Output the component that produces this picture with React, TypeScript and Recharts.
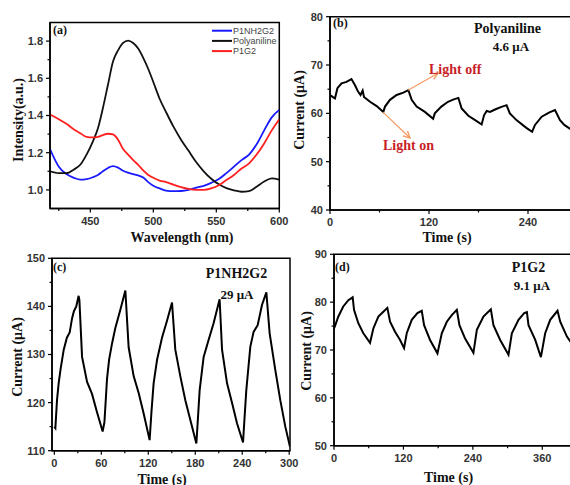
import React from "react";
import { LineChart, Line, XAxis, YAxis, ReferenceArea, ReferenceLine } from "recharts";

// (a) spectra
const wavelength = [418, 425, 431, 437, 442, 447, 452, 456, 460, 464, 468, 472, 476, 480, 484, 488, 492, 496, 500, 505, 510, 516, 522, 528, 534, 540, 546, 552, 558, 564, 570, 576, 582, 588, 594, 600];
const p1nh2g2 = [1.22, 1.125, 1.085, 1.065, 1.055, 1.058, 1.068, 1.08, 1.1, 1.118, 1.128, 1.12, 1.103, 1.093, 1.085, 1.078, 1.066, 1.042, 1.022, 1.008, 0.996, 0.993, 0.994, 1.0, 1.012, 1.022, 1.038, 1.058, 1.09, 1.125, 1.16, 1.19, 1.245, 1.32, 1.39, 1.43];
const polyaniline = [1.1, 1.09, 1.09, 1.11, 1.135, 1.19, 1.26, 1.33, 1.44, 1.565, 1.69, 1.75, 1.79, 1.803, 1.79, 1.76, 1.71, 1.65, 1.58, 1.49, 1.42, 1.34, 1.27, 1.21, 1.15, 1.1, 1.06, 1.03, 1.01, 0.998, 0.99, 0.993, 1.017, 1.045, 1.062, 1.055];
const p1g2 = [1.405, 1.38, 1.355, 1.325, 1.305, 1.285, 1.282, 1.285, 1.295, 1.302, 1.298, 1.27, 1.22, 1.19, 1.16, 1.135, 1.105, 1.08, 1.065, 1.05, 1.042, 1.028, 1.015, 1.005, 1.0, 1.0, 1.008, 1.025, 1.053, 1.08, 1.115, 1.143, 1.19, 1.25, 1.32, 1.38];

const spectra = [
  { key: "p1nh2g2", name: "P1NH2G2", color: "#1a1aff" },
  { key: "polyaniline", name: "Polyaniline", color: "#111111" },
  { key: "p1g2", name: "P1G2", color: "#ff1f1f" },
];

// (b) polyaniline photocurrent
const bTime = [0, 4, 6, 9, 14, 20, 26, 30, 34, 37, 39.6, 41.2, 48.5, 56.6, 64.6, 66.7, 72.7, 80.8, 88.9, 95, 99, 105, 115, 125, 127, 135, 143, 150, 155.6, 159.6, 167.7, 177.8, 183.8, 186.7, 189.9, 194, 200, 207, 214, 218, 226, 238, 245, 248.5, 256.6, 266, 272.7, 278.8, 284, 291, 300];
const bCurrent = [63.8, 63.3, 63.1, 65.2, 66.2, 66.5, 67.1, 65.9, 64.5, 63.8, 64.7, 63.4, 62.4, 61.5, 60.3, 61.4, 62.8, 63.8, 64.3, 64.8, 62.8, 61.4, 60.3, 58.9, 60, 61.4, 62.4, 62.9, 63.2, 61.0, 59.5, 58.4, 57.7, 59.6, 60.5, 60.3, 60.8, 61.3, 61.7, 60, 58.6, 57.0, 56.2, 57.6, 59.3, 60.2, 60.7, 58.6, 57.6, 56.8, 56.2];

// (c) P1NH2G2 photocurrent
const cTime = [0, 1.3, 3.4, 5.5, 8, 12, 16, 19.6, 22.6, 25, 28, 31, 32, 35.4, 41.8, 48.1, 54.5, 61.7, 64, 67.3, 70, 73.7, 77.9, 84.3, 90.7, 94.9, 101.3, 107.7, 114, 121.7, 124, 126.8, 131.2, 137.5, 143.9, 150.3, 154.5, 161, 167.3, 173.7, 181.4, 183.5, 185.6, 190.7, 197, 203.4, 211.1, 214.2, 220.6, 227, 233.3, 241, 243, 245.2, 250.3, 254.5, 259.7, 265.2, 270.8, 275, 282.2, 288.6, 295, 301];
const cCurrent = [115, 114.7, 120.5, 124, 127, 131, 133.5, 134.6, 137.5, 139, 140, 142.2, 141.3, 129.5, 124.3, 121.8, 118, 114, 116, 125, 129, 132.3, 135.5, 139.3, 143.3, 131.5, 125.5, 122, 117.8, 112.2, 118, 124, 128.9, 133.5, 137, 140.8, 131, 125.4, 120.5, 116.4, 111.5, 117, 122.6, 129.5, 133, 136.5, 141.5, 131, 124, 119.9, 115.7, 111.7, 117, 122.6, 131.6, 134.7, 136.1, 140.3, 142.9, 134.4, 126.8, 120.5, 115, 110.8];

// (d) P1G2 photocurrent
const dTime = [0, 1.7, 7.5, 16, 24.8, 32.3, 34.6, 42, 50.7, 62.3, 68, 76.7, 85.3, 92.2, 96.9, 105.5, 114.2, 121.1, 125.7, 134.4, 144.2, 151.7, 155.7, 166, 178.8, 186.3, 195, 203.6, 212.3, 216.8, 226.6, 241, 246.9, 258.3, 271.1, 275.6, 287.2, 301.6, 307.4, 318.9, 328.7, 333.4, 336.2, 347.8, 357.6, 365, 373.7, 386.3, 391, 402.6, 412];
const dCurrent = [74.5, 75, 77, 79.1, 80.4, 81, 78.4, 75.6, 73.5, 71.5, 74.5, 77, 78, 78.8, 75.9, 73.8, 72.1, 70.4, 73.5, 76.3, 77.7, 78.2, 75.2, 72.1, 69.3, 73.5, 75.9, 77.3, 78.4, 75.2, 72.4, 69.4, 74.2, 77, 78.5, 75.2, 72.1, 69, 73.5, 76.3, 77.7, 77.9, 75.2, 72.1, 68.5, 73.5, 76.3, 78.2, 75.9, 72.8, 71.2];

const W = 600;
const H = 485;
const tickFont = { fontFamily: "'Liberation Sans', Arial, sans-serif", fontWeight: 700, fontSize: 11, fill: "#333" };
const titleFont = { fontFamily: "'Liberation Serif', 'Times New Roman', serif", fontWeight: 700, fill: "#111" };

const spectraRows = wavelength.map((x, i) => ({ x, p1nh2g2: p1nh2g2[i], polyaniline: polyaniline[i], p1g2: p1g2[i] }));
const toRows = (t: number[], v: number[]) => t.map((x, i) => ({ x, y: v[i] }));

function BottomTick(props: any) {
  const { x, y, payload, majors, fmt } = props;
  const major = majors.includes(payload.value);
  return (
    <g>
      <line x1={x} y1={y} x2={x} y2={y + (major ? 4 : 2.5)} stroke="#000" strokeWidth={1.2} />
      {major && (
        <text x={x} y={y + 16} textAnchor="middle" style={tickFont}>
          {fmt ? fmt(payload.value) : payload.value}
        </text>
      )}
    </g>
  );
}

function LeftTick(props: any) {
  const { x, y, payload, majors, fmt } = props;
  const major = majors.includes(payload.value);
  return (
    <g>
      <line x1={x} y1={y} x2={x - (major ? 4 : 2.5)} y2={y} stroke="#000" strokeWidth={1.2} />
      {major && (
        <text x={x - 7} y={y} dy="0.36em" textAnchor="end" style={tickFont}>
          {fmt ? fmt(payload.value) : payload.value}
        </text>
      )}
    </g>
  );
}

type PanelProps = {
  box: { left: number; top: number; right: number; bottom: number };
  data: any[];
  xDomain: [number, number];
  yDomain: [number, number];
  xTicks: number[];
  xMajor: number[];
  yTicks: number[];
  yMajor: number[];
  yFmt?: (v: number) => string;
  children: React.ReactNode;
};

// axes get a 1px box (a zero-sized axis is not drawn), the margins make up for it
function Panel({ box, data, xDomain, yDomain, xTicks, xMajor, yTicks, yMajor, yFmt, children }: PanelProps) {
  const axisLine = { stroke: "#000", strokeWidth: 1.5 };
  return (
    <div style={{ position: "absolute", left: 0, top: 0 }}>
      <LineChart
        width={W}
        height={H}
        data={data}
        margin={{ top: box.top, left: box.left - 1, right: W - box.right, bottom: H - box.bottom - 1 }}
      >
        <XAxis
          type="number"
          dataKey="x"
          domain={xDomain}
          ticks={xTicks}
          interval={0}
          height={1}
          tickSize={0}
          tickMargin={0}
          tickLine={false}
          axisLine={axisLine}
          allowDataOverflow
          tick={(p: any) => <BottomTick {...p} majors={xMajor} />}
        />
        <YAxis
          type="number"
          domain={yDomain}
          ticks={yTicks}
          interval={0}
          width={1}
          tickSize={0}
          tickMargin={0}
          tickLine={false}
          axisLine={axisLine}
          allowDataOverflow
          tick={(p: any) => <LeftTick {...p} majors={yMajor} fmt={yFmt} />}
        />
        <ReferenceArea x1={xDomain[0]} x2={xDomain[1]} y1={yDomain[0]} y2={yDomain[1]} fill="none" stroke="#000" strokeWidth={1.5} />
        {children}
      </LineChart>
    </div>
  );
}

const arrowShape = (p: any) => (
  <line x1={p.x1} y1={p.y1} x2={p.x2} y2={p.y2} stroke="#f59a62" strokeWidth={1.2} markerEnd="url(#orangeHead)" />
);

export default function App() {
  return (
    <div style={{ position: "fixed", left: 0, top: 0, width: 570, height: 485, overflow: "hidden", background: "#fff" }}>
      <Panel
        box={{ left: 50, top: 22.5, right: 279.3, bottom: 208.5 }}
        data={spectraRows}
        xDomain={[418, 600]}
        yDomain={[0.9, 1.9]}
        xTicks={[425, 450, 475, 500, 525, 550, 575, 600]}
        xMajor={[450, 500, 550, 600]}
        yTicks={[1.0, 1.1, 1.2, 1.3, 1.4, 1.5, 1.6, 1.7, 1.8]}
        yMajor={[1.0, 1.2, 1.4, 1.6, 1.8]}
        yFmt={(v) => v.toFixed(1)}
      >
        {spectra.map((s) => (
          <Line key={s.key} type="monotone" dataKey={s.key} name={s.name} stroke={s.color} strokeWidth={1.8} dot={false} isAnimationActive={false} />
        ))}
      </Panel>

      <Panel
        box={{ left: 330, top: 16.7, right: 577.5, bottom: 210 }}
        data={toRows(bTime, bCurrent)}
        xDomain={[0, 300]}
        yDomain={[40, 80]}
        xTicks={[0, 60, 120, 180, 240, 300]}
        xMajor={[0, 120, 240]}
        yTicks={[40, 45, 50, 55, 60, 65, 70, 75, 80]}
        yMajor={[40, 50, 60, 70, 80]}
      >
        <Line type="linear" dataKey="y" stroke="#000" strokeWidth={2} dot={false} isAnimationActive={false} />
        <ReferenceLine segment={[{ x: 94.5, y: 64.8 }, { x: 130.9, y: 68.3 }]} shape={arrowShape} ifOverflow="visible" />
        <ReferenceLine segment={[{ x: 64.2, y: 60.25 }, { x: 97, y: 54.9 }]} shape={arrowShape} ifOverflow="visible" />
      </Panel>

      <Panel
        box={{ left: 52, top: 258.3, right: 290, bottom: 450.7 }}
        data={toRows(cTime, cCurrent)}
        xDomain={[-3, 301]}
        yDomain={[110, 150]}
        xTicks={[0, 30, 60, 90, 120, 150, 180, 210, 240, 270, 300]}
        xMajor={[0, 60, 120, 180, 240, 300]}
        yTicks={[110, 115, 120, 125, 130, 135, 140, 145, 150]}
        yMajor={[110, 120, 130, 140, 150]}
      >
        <Line type="linear" dataKey="y" stroke="#000" strokeWidth={2} dot={false} isAnimationActive={false} />
      </Panel>

      <Panel
        box={{ left: 334, top: 254.3, right: 577, bottom: 445.7 }}
        data={toRows(dTime, dCurrent)}
        xDomain={[0, 420]}
        yDomain={[50, 90]}
        xTicks={[0, 60, 120, 180, 240, 300, 360, 420]}
        xMajor={[0, 120, 240, 360]}
        yTicks={[50, 55, 60, 65, 70, 75, 80, 85, 90]}
        yMajor={[50, 60, 70, 80, 90]}
      >
        <Line type="linear" dataKey="y" stroke="#000" strokeWidth={2} dot={false} isAnimationActive={false} />
      </Panel>

      <svg width={570} height={485} style={{ position: "absolute", left: 0, top: 0, pointerEvents: "none" }}>
        <defs>
          <marker id="orangeHead" viewBox="0 0 10 10" refX="9" refY="5" markerWidth="7" markerHeight="7" orient="auto">
            <path d="M1,1 L9,5 L1,9" fill="none" stroke="#f59a62" strokeWidth="1.6" />
          </marker>
        </defs>

        {/* legend of (a) */}
        {spectra.map((s, i) => (
          <g key={s.key}>
            <line x1={212} x2={232} y1={30.7 + i * 10.2} y2={30.7 + i * 10.2} stroke={s.color} strokeWidth={2} />
            <text x={233} y={30.7 + i * 10.2} dy="0.35em" style={{ fontFamily: "'Liberation Sans', Arial, sans-serif", fontSize: 9, fill: "#444" }}>
              {s.name}
            </text>
          </g>
        ))}

        {/* panel letters */}
        <text x={53} y={34} style={{ ...titleFont, fontSize: 12 }}>(a)</text>
        <text x={333} y={27} style={{ ...titleFont, fontSize: 12 }}>(b)</text>
        <text x={53} y={271} style={{ ...titleFont, fontSize: 12 }}>(c)</text>
        <text x={335} y={271} style={{ ...titleFont, fontSize: 12 }}>(d)</text>

        {/* sample names */}
        <text x={507.5} y={33} textAnchor="middle" style={{ ...titleFont, fontSize: 14 }}>Polyaniline</text>
        <text x={511} y={51} textAnchor="middle" style={{ ...titleFont, fontSize: 13 }}>4.6 μA</text>
        <text x={236.5} y={278} textAnchor="middle" style={{ ...titleFont, fontSize: 14 }}>P1NH2G2</text>
        <text x={237} y={299} textAnchor="middle" style={{ ...titleFont, fontSize: 13 }}>29 μA</text>
        <text x={528.5} y={272} textAnchor="middle" style={{ ...titleFont, fontSize: 14 }}>P1G2</text>
        <text x={532} y={290} textAnchor="middle" style={{ ...titleFont, fontSize: 13 }}>9.1 μA</text>

        {/* light annotations */}
        <text x={429} y={73.5} style={{ ...titleFont, fontSize: 14, fill: "#c81e28" }}>Light off</text>
        <text x={383} y={149.5} style={{ ...titleFont, fontSize: 14, fill: "#c81e28" }}>Light on</text>

        {/* axis titles */}
        <text x={18.5} y={120} transform="rotate(-90 18.5 120)" textAnchor="middle" dominantBaseline="central" style={{ ...titleFont, fontSize: 14 }}>Intensity(a.u.)</text>
        <text x={182} y={237} textAnchor="middle" dominantBaseline="central" style={{ ...titleFont, fontSize: 14 }}>Wavelength (nm)</text>
        <text x={299.5} y={110} transform="rotate(-90 299.5 110)" textAnchor="middle" dominantBaseline="central" style={{ ...titleFont, fontSize: 14 }}>Current (μA)</text>
        <text x={447} y={237} textAnchor="middle" dominantBaseline="central" style={{ ...titleFont, fontSize: 14 }}>Time (s)</text>
        <text x={17.5} y={357} transform="rotate(-90 17.5 357)" textAnchor="middle" dominantBaseline="central" style={{ ...titleFont, fontSize: 14 }}>Current (μA)</text>
        <text x={162} y={479} textAnchor="middle" dominantBaseline="central" style={{ ...titleFont, fontSize: 14 }}>Time (s)</text>
        <text x={306} y={351} transform="rotate(-90 306 351)" textAnchor="middle" dominantBaseline="central" style={{ ...titleFont, fontSize: 14 }}>Current (μA)</text>
        <text x={448.5} y={477} textAnchor="middle" dominantBaseline="central" style={{ ...titleFont, fontSize: 14 }}>Time (s)</text>
      </svg>
    </div>
  );
}
